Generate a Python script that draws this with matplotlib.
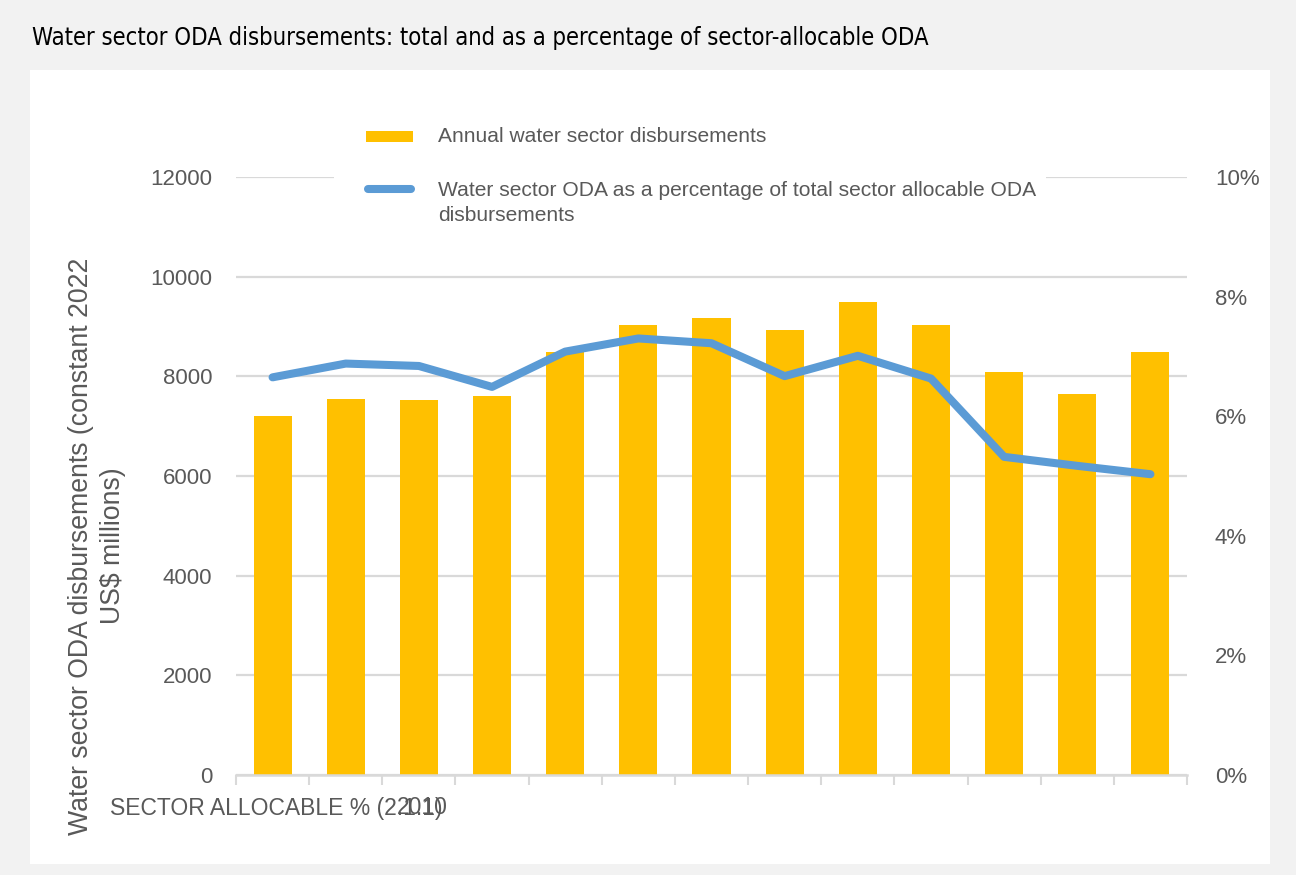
import matplotlib
matplotlib.use('Agg')
import matplotlib.pyplot as plt
from matplotlib.patches import Rectangle
from matplotlib.lines import Line2D

# annual water sector ODA disbursements, constant 2022 US$ millions
years = list(range(2010, 2023))
disbursements = [7200, 7550, 7520, 7610, 8490, 9030, 9170, 8930, 9490, 9030, 8080, 7640, 8490]
# water share of total sector-allocable ODA, %
water_share = [6.65, 6.88, 6.84, 6.49, 7.08, 7.30, 7.22, 6.67, 7.01, 6.63, 5.32, 5.17, 5.03]

left_ticks = [0, 2000, 4000, 6000, 8000, 10000, 12000]
right_ticks = [0, 2, 4, 6, 8, 10]

BAR = '#FFC000'
LINE = '#5B9BD5'
GRID = '#D9D9D9'
TXT = '#595959'
FONT = ['Liberation Sans', 'DejaVu Sans']

fig = plt.figure(figsize=(12.96, 8.75), dpi=100, facecolor='#F2F2F2')
W, H = 1296, 875


def fx(px):
    return px / W


def fy(py):
    return 1 - py / H


# white chart area
fig.patches.append(Rectangle((fx(30), fy(864)), fx(1240), 794 / H,
                             transform=fig.transFigure, facecolor='white',
                             edgecolor='none', zorder=-5))

fig.text(fx(32), fy(38),
         'Water sector ODA disbursements: total and as a percentage of sector-allocable ODA',
         fontsize=17.1, family='DejaVu Sans', fontstretch='condensed',
         va='center', ha='left', color='black')

ax = fig.add_axes([fx(236), fy(775), (1187 - 236) / W, 598 / H])
ax.set_facecolor('none')
x = list(range(len(years)))
ax.bar(x, disbursements, width=0.52, color=BAR, zorder=2)
ax.set_xlim(-0.5, len(years) - 0.5)
ax.set_ylim(0, 12000)
ax.set_yticks(left_ticks)
ax.set_yticklabels([str(v) for v in left_ticks], fontsize=16, color=TXT, family=FONT)
ax.tick_params(axis='y', length=0, pad=17)
ax.grid(axis='y', color=GRID, linewidth=1.6, zorder=0)
ax.set_axisbelow(True)
for s in ['top', 'right', 'left']:
    ax.spines[s].set_visible(False)
ax.spines['bottom'].set_color(GRID)
ax.spines['bottom'].set_linewidth(1.8)
ax.set_xticks([])
ax.set_xticks([i - 0.5 for i in range(len(years) + 1)], minor=True)
ax.tick_params(axis='x', which='minor', length=7, width=1.5, color=GRID, labelbottom=False)

fig.text(fx(97), fy(546), 'Water sector ODA disbursements (constant 2022\nUS$ millions)',
         rotation=90, fontsize=19.2, color=TXT, family=FONT, linespacing=1.3,
         ha='center', va='center', multialignment='center')

ax2 = ax.twinx()
ax2.plot(x, water_share, color=LINE, linewidth=5.8, solid_capstyle='round',
         solid_joinstyle='round', zorder=3)
# right scale: 0-10% spans the same height as 0-12000
ax2.set_ylim(0, 10)
ax2.set_yticks(right_ticks)
ax2.set_yticklabels([f'{v}%' for v in right_ticks], fontsize=16, color=TXT, family=FONT)
ax2.tick_params(axis='y', length=0, pad=20)
for s in ax2.spines.values():
    s.set_visible(False)

# category label overlapping the series label at the bottom left
fig.text(fx(110), fy(808), 'SECTOR ALLOCABLE % (2.1.1)', fontsize=16.5,
         color=TXT, family=FONT, va='center', ha='left')
fig.text(fx(448), fy(808), str(years[0]), fontsize=16.5,
         color=TXT, family=FONT, va='center', ha='right')

# legend block sitting over the top gridline
fig.patches.append(Rectangle((fx(334), fy(236)), (1046 - 334) / W, 126 / H,
                             transform=fig.transFigure, facecolor='white',
                             edgecolor='none', zorder=1))
fig.patches.append(Rectangle((fx(366), fy(142)), 47 / W, 11 / H,
                             transform=fig.transFigure, facecolor=BAR,
                             edgecolor='none', zorder=2))
fig.lines.append(Line2D([fx(368), fx(411)], [fy(189), fy(189)],
                        transform=fig.transFigure, color=LINE, linewidth=5.8,
                        solid_capstyle='round', zorder=2))
fig.text(fx(438), fy(136), 'Annual water sector disbursements', fontsize=15.1,
         color=TXT, family=FONT, va='center', ha='left', zorder=3)
fig.text(fx(438), fy(203),
         'Water sector ODA as a percentage of total sector allocable ODA\ndisbursements',
         fontsize=15.1, color=TXT, family=FONT, va='center', ha='left',
         linespacing=1.35, zorder=3)

fig.savefig('out.png', dpi=100, facecolor=fig.get_facecolor())
